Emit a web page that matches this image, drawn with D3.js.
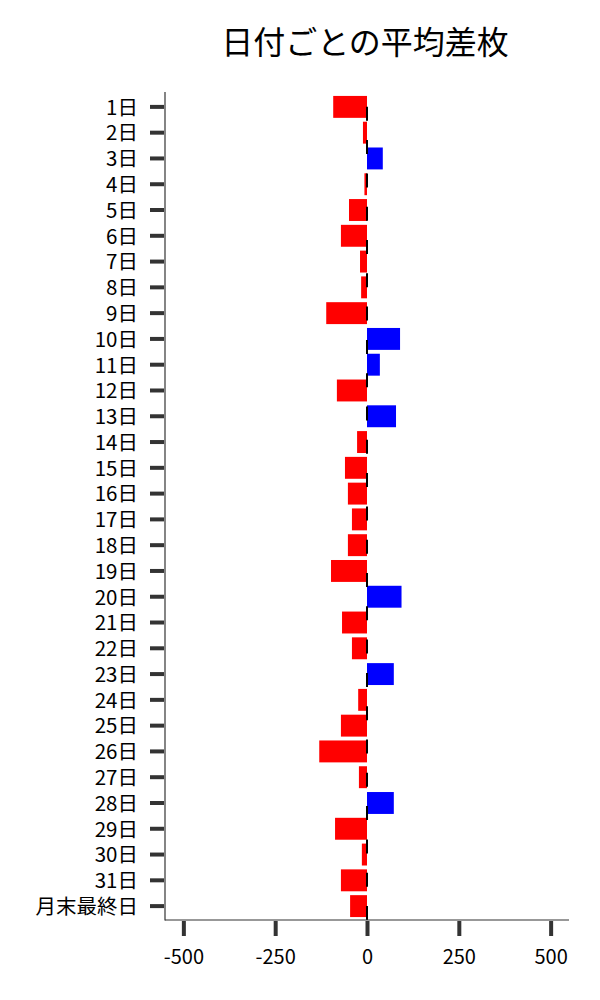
<!DOCTYPE html>
<html><head><meta charset="utf-8">
<script src="https://cdn.jsdelivr.net/npm/d3@7"></script>
<style>body{margin:0;background:#fff}text{font-family:"Noto Sans CJK JP","Noto Sans",sans-serif}</style>
</head><body><svg id="c" width="600" height="1000"></svg>
<script>
const title = "日付ごとの平均差枚";
const categories = ["1日","2日","3日","4日","5日","6日","7日","8日","9日","10日","11日","12日","13日","14日","15日","16日","17日","18日","19日","20日","21日","22日","23日","24日","25日","26日","27日","28日","29日","30日","31日","月末最終日"];
const values = [-92,-11,43,-7,-49,-71,-19,-16,-111,90,35,-82,79,-27,-60,-52,-41,-52,-98,94,-68,-41,73,-24,-71,-130,-22,73,-87,-14,-71,-46];
const xTicks = [-500,-250,0,250,500];
const xDomain = [-550,550];

const svg = d3.select("#c");
const pLeft = 165, pRight = 569, pTop = 92, pBottom = 920;
const x = d3.scaleLinear().domain(xDomain).range([pLeft, pRight]);
const y = d3.scaleBand().domain(categories).range([94, 919]).paddingInner(0.15).paddingOuter(0.075);
const font = '"Noto Sans CJK JP","Noto Sans",sans-serif';

svg.append("text").attr("x", 365).attr("y", 54).attr("text-anchor","middle")
  .attr("font-size", 32).attr("fill","#000").text(title);

// bars
svg.append("g").selectAll("rect").data(categories).join("rect")
  .attr("x", (d,i) => x(Math.min(0, values[i])))
  .attr("width", (d,i) => Math.abs(x(values[i]) - x(0)))
  .attr("y", d => y(d))
  .attr("height", y.bandwidth())
  .attr("fill", (d,i) => values[i] < 0 ? "#ff0000" : "#0000ff");

// zero dashed line
svg.append("line").attr("x1", x(0)).attr("x2", x(0)).attr("y1", pBottom).attr("y2", pTop)
  .attr("stroke","#000").attr("stroke-width",2).attr("stroke-dasharray","14,19.3");

// y axis
const yAxis = svg.append("g").attr("transform", `translate(${pLeft},0)`)
  .call(d3.axisLeft(y).tickSize(15).tickPadding(12));
yAxis.select(".domain").remove();
yAxis.selectAll(".tick line").attr("stroke","#333").attr("stroke-width",4).attr("x2",-15).attr("x1",-1);
yAxis.selectAll(".tick text").attr("font-size",20.5).attr("fill","#000").attr("dy","0.38em")
  .style("font-family",font);
svg.append("line").attr("x1", pLeft).attr("x2", pLeft).attr("y1", pTop).attr("y2", pBottom+0.5)
  .attr("stroke","#333").attr("stroke-width",1.2);

// x axis
const xAxis = svg.append("g").attr("transform", `translate(0,${pBottom})`)
  .call(d3.axisBottom(x).tickValues(xTicks).tickSize(16).tickPadding(14).tickFormat(d => String(d)));
xAxis.select(".domain").remove();
xAxis.selectAll(".tick line").attr("stroke","#333").attr("stroke-width",4).attr("y1",1);
xAxis.selectAll(".tick text").attr("font-size",20).attr("fill","#000")
  .style("font-family",font);
svg.append("line").attr("x1", pLeft).attr("x2", pRight).attr("y1", pBottom).attr("y2", pBottom)
  .attr("stroke","#333").attr("stroke-width",1.2);
</script></body></html>
